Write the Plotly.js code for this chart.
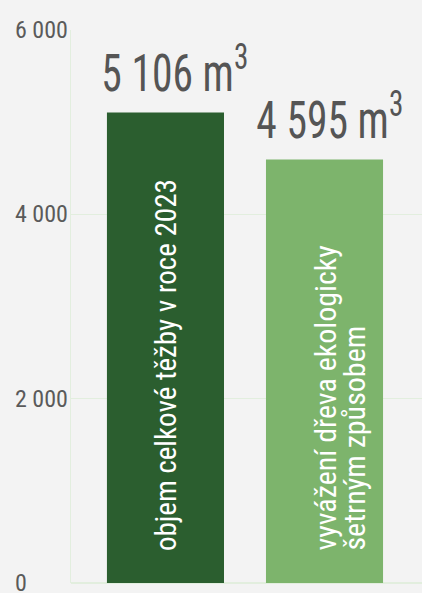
<!DOCTYPE html>
<html>
<head>
<meta charset="utf-8">
<script src="https://cdn.plot.ly/plotly-3.0.1.min.js"></script>
<style>
html,body{margin:0;padding:0;background:#f3f3f3;}
.squeeze{transform-box:fill-box;transform-origin:center;transform:scaleX(0.8);}
</style>
</head>
<body>
<div id="chart" style="width:422px;height:593px;"></div>
<script>
const categories = ["objem celkové těžby v roce 2023", "vyvážení dřeva ekologicky<br>šetrným způsobem"];
const values = [5106, 4595];
const unit = "m<sup>3</sup>";
const barColors = ["#2b5e2f", "#7db46c"];
const tickValues = [0, 2000, 4000, 6000];
const tickLabels = ["0", "2 000", "4 000", "6 000"];

const FONT = '"Roboto Condensed", "Liberation Sans Narrow", "DejaVu Sans Condensed", sans-serif';
const fmt = v => String(v).replace(/\B(?=(\d{3})+(?!\d))/g, ' ');
const xs = categories.map((c, i) => i);

const trace = {
  type: 'bar',
  x: xs,
  y: values,
  width: 0.736,
  marker: {color: barColors, line: {width: 0}},
  hoverinfo: 'skip'
};

const annotations = [];
const valueIdx = [];
values.forEach((v, i) => {
  valueIdx.push(annotations.length);
  annotations.push({
    x: xs[i], y: v, xref: 'x', yref: 'y',
    text: fmt(v) + ' ' + unit,
    showarrow: false, xanchor: 'center', yanchor: 'bottom',
    xshift: i === 0 ? 10 : 5, yshift: 6,
    font: {family: FONT, size: 52, color: '#555555'}
  });
  const lines = categories[i].split('<br>');
  const fs = lines.length > 1 ? 30 : 29;
  const pitch = 29;
  lines.forEach((ln, k) => {
    annotations.push({
      x: xs[i], y: 330, xref: 'x', yref: 'y',
      text: ln,
      textangle: -90,
      showarrow: false, xanchor: 'center', yanchor: 'bottom',
      xshift: lines.length > 1 ? (1 + k * pitch) : 0,
      font: {family: FONT, size: fs, color: '#ffffff'}
    });
  });
});

tickValues.forEach((t, i) => {
  annotations.push({
    x: 0, y: t, xref: 'paper', yref: 'y',
    text: tickLabels[i],
    showarrow: false, xanchor: 'left', yanchor: 'middle',
    xshift: -58, yshift: 0,
    font: {family: FONT, size: 24, color: '#5a5a5a'}
  });
});

const layout = {
  width: 422, height: 593,
  margin: {l: 71, r: 0, t: 30, b: 10, pad: 0},
  paper_bgcolor: '#f3f3f3',
  plot_bgcolor: '#f3f3f3',
  showlegend: false,
  font: {family: FONT, color: '#555555'},
  xaxis: {
    range: [-0.594, 1.613], showgrid: false, zeroline: false,
    showticklabels: false, showline: false, fixedrange: true
  },
  yaxis: {
    range: [0, 6000], tickvals: tickValues, showticklabels: false,
    showgrid: true, gridcolor: '#e2eede', gridwidth: 1.5,
    zeroline: true, zerolinecolor: '#e2eede', zerolinewidth: 1.5,
    showline: true, linecolor: '#e2eede', linewidth: 1.5,
    ticks: '', fixedrange: true
  },
  annotations: annotations
};

Plotly.newPlot('chart', [trace], layout, {displayModeBar: false, staticPlot: true}).then(gd => {
  gd.querySelectorAll('g.annotation').forEach(g => {
    const idx = +g.getAttribute('data-index');
    if (valueIdx.indexOf(idx) >= 0) {
      const t = g.querySelector('text.annotation-text');
      if (t) t.classList.add('squeeze');
    }
  });
});
</script>
</body>
</html>
